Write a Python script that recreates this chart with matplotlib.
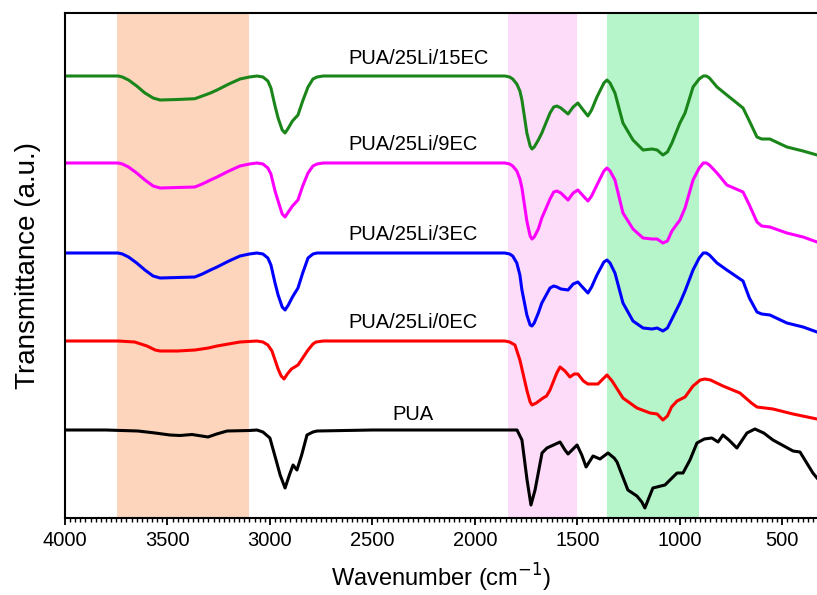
import matplotlib as mpl

mpl.use('Agg')

import matplotlib.pyplot as plt
from matplotlib.ticker import MultipleLocator

plt.rcParams['font.family'] = ['Liberation Sans', 'DejaVu Sans']

# FTIR spectra, values relative to each baseline (a.u.)
wn_pua = [4000, 3800, 3644, 3560, 3488, 3439, 3380, 3302, 3260, 3209, 3100, 3063,
          3034, 3000, 2970, 2950, 2926, 2905, 2887, 2868, 2845, 2819, 2790, 2770,
          2500, 2000, 1830, 1794, 1770, 1745, 1726, 1706, 1672, 1648, 1584, 1560,
          1545, 1501, 1478, 1457, 1423, 1389, 1350, 1320, 1306, 1253, 1209, 1185,
          1170, 1131, 1072, 1013, 984, 950, 916, 880, 843, 813, 789, 760, 721, 672,
          633, 590, 545, 447, 413, 380, 350, 330]
t_pua = [0, 0, -0.01, -0.03, -0.05, -0.055, -0.045, -0.07, -0.04, -0.01, -0.005, 0,
         -0.02, -0.08, -0.30, -0.45, -0.58, -0.45, -0.35, -0.40, -0.25, -0.05, -0.02, -0.01,
         0, 0, 0, 0, -0.10, -0.50, -0.75, -0.60, -0.23, -0.18, -0.12, -0.20,
         -0.24, -0.15, -0.25, -0.37, -0.26, -0.29, -0.23, -0.28, -0.32, -0.60, -0.66, -0.72,
         -0.78, -0.58, -0.55, -0.43, -0.43, -0.30, -0.13, -0.09, -0.08, -0.12, -0.05, -0.10, -0.18, -0.03,
         0.01, -0.03, -0.10, -0.21, -0.22, -0.33, -0.43, -0.48]

wn_0ec = [4000, 3741, 3660, 3630, 3600, 3560, 3536, 3450, 3366, 3300, 3258, 3146,
          3063, 3034, 3010, 2990, 2960, 2945, 2931, 2915, 2895, 2863, 2840, 2814,
          2790, 2775, 2740, 1853, 1830, 1804, 1780, 1745, 1730, 1721, 1700, 1667,
          1650, 1633, 1600, 1584, 1560, 1536, 1515, 1497, 1470, 1448, 1399, 1375,
          1355, 1330, 1277, 1209, 1145, 1110, 1082, 1060, 1040, 1013, 974, 935,
          900, 877, 850, 789, 706, 650, 623, 545, 447, 330]
t_0ec = [0, 0, -0.01, -0.03, -0.05, -0.09, -0.10, -0.10, -0.09, -0.07, -0.05, -0.01,
         0, -0.01, -0.04, -0.10, -0.28, -0.35, -0.38, -0.33, -0.28, -0.24, -0.17, -0.09,
         -0.03, -0.01, 0, 0, -0.01, -0.04, -0.19, -0.50, -0.61, -0.64, -0.62, -0.57,
         -0.55, -0.49, -0.32, -0.26, -0.30, -0.36, -0.33, -0.33, -0.40, -0.43, -0.43, -0.38,
         -0.34, -0.40, -0.57, -0.67, -0.72, -0.73, -0.79, -0.75, -0.66, -0.60, -0.56, -0.45,
         -0.39, -0.38, -0.39, -0.45, -0.52, -0.62, -0.66, -0.68, -0.73, -0.78]

# the three EC-rich samples share one wavenumber grid
wn_ec = [4000, 3741, 3720, 3690, 3650, 3610, 3570, 3536, 3450, 3366, 3330, 3290,
         3258, 3200, 3146, 3100, 3063, 3034, 3010, 2995, 2975, 2960, 2940, 2926,
         2910, 2890, 2863, 2840, 2814, 2790, 2770, 2740, 1853, 1830, 1815, 1795,
         1780, 1770, 1746, 1730, 1721, 1710, 1690, 1673, 1633, 1615, 1599, 1580,
         1545, 1520, 1497, 1475, 1448, 1430, 1404, 1370, 1355, 1340, 1316, 1277,
         1228, 1179, 1135, 1110, 1082, 1060, 1038, 999, 974, 935, 905, 885,
         870, 855, 818, 770, 691, 660, 623, 600, 560, 477, 398, 330]
t_3ec = [0, 0, -0.01, -0.04, -0.10, -0.17, -0.23, -0.25, -0.245, -0.24, -0.21, -0.17,
         -0.14, -0.08, -0.03, -0.01, 0, -0.01, -0.05, -0.12, -0.30, -0.42, -0.54, -0.57,
         -0.52, -0.44, -0.35, -0.20, -0.05, -0.01, 0, 0, 0, -0.01, -0.03, -0.10,
         -0.22, -0.37, -0.62, -0.72, -0.73, -0.70, -0.60, -0.50, -0.35, -0.33, -0.34, -0.36,
         -0.37, -0.31, -0.29, -0.34, -0.40, -0.34, -0.22, -0.09, -0.07, -0.10, -0.20, -0.50,
         -0.68, -0.75, -0.76, -0.75, -0.78, -0.75, -0.66, -0.50, -0.38, -0.17, -0.05, 0,
         0, -0.02, -0.10, -0.17, -0.28, -0.45, -0.59, -0.61, -0.62, -0.70, -0.74, -0.79]
t_9ec = [0, 0, -0.01, -0.04, -0.10, -0.17, -0.23, -0.25, -0.245, -0.24, -0.21, -0.17,
         -0.14, -0.08, -0.03, -0.01, 0, -0.01, -0.05, -0.11, -0.28, -0.38, -0.51, -0.54,
         -0.49, -0.43, -0.37, -0.23, -0.10, -0.03, -0.01, 0, 0, -0.01, -0.03, -0.08,
         -0.16, -0.25, -0.58, -0.73, -0.76, -0.74, -0.66, -0.55, -0.36, -0.29, -0.28, -0.30,
         -0.37, -0.30, -0.27, -0.32, -0.38, -0.33, -0.22, -0.08, -0.05, -0.08, -0.17, -0.50,
         -0.66, -0.75, -0.76, -0.76, -0.80, -0.78, -0.68, -0.57, -0.45, -0.17, -0.05, 0,
         0, -0.02, -0.10, -0.22, -0.29, -0.42, -0.59, -0.63, -0.64, -0.70, -0.74, -0.79]
t_15ec = [0, 0, -0.01, -0.04, -0.10, -0.17, -0.22, -0.24, -0.235, -0.227, -0.20, -0.17,
          -0.14, -0.08, -0.03, -0.01, 0, -0.01, -0.05, -0.12, -0.30, -0.42, -0.54, -0.57,
          -0.52, -0.45, -0.39, -0.25, -0.11, -0.03, -0.01, 0, 0, -0.01, -0.03, -0.08,
          -0.15, -0.24, -0.57, -0.70, -0.73, -0.71, -0.64, -0.57, -0.37, -0.31, -0.30, -0.32,
          -0.38, -0.31, -0.27, -0.33, -0.40, -0.34, -0.21, -0.07, -0.04, -0.07, -0.17, -0.47,
          -0.64, -0.74, -0.73, -0.74, -0.79, -0.76, -0.67, -0.47, -0.37, -0.11, -0.03, 0,
          0, -0.02, -0.11, -0.19, -0.32, -0.45, -0.61, -0.63, -0.63, -0.71, -0.75, -0.79]

names = ['PUA', 'PUA/25Li/0EC', 'PUA/25Li/3EC', 'PUA/25Li/9EC', 'PUA/25Li/15EC']
offsets = [0.88, 1.77, 2.65, 3.55, 4.42]
colors = ['black', '#ff0000', '#0000ff', '#ff00ff', '#1a861a']
spectra = [(wn_pua, t_pua), (wn_0ec, t_0ec), (wn_ec, t_3ec), (wn_ec, t_9ec), (wn_ec, t_15ec)]

# highlighted bands
bands = [(3745, 3100, '#fcd5bc'), (1840, 1500, '#fddcfa'), (1355, 905, '#b5f5c9')]

fig = plt.figure(figsize=(8.17, 5.95), dpi=100)
ax = fig.add_axes([65 / 817, 1 - 518 / 595, 1 - 65 / 817, (518 - 13) / 595])

for lo, hi, c in bands:
    ax.axvspan(lo, hi, color=c, lw=0, zorder=0)

for (wn, t), off, c in zip(spectra, offsets, colors):
    ax.plot(wn, [v + off for v in t], color=c, lw=2.2, solid_joinstyle='round', zorder=2)

# curve labels
for name, off in zip(names[1:], offsets[1:]):
    ax.text(2619, off + 0.18, name, fontsize=14.5, ha='left', va='center')
ax.text(2302, offsets[0] + 0.15, names[0], fontsize=14.5, ha='center', va='center')

ax.set_xlim(4000, 330)
ax.set_ylim(0, 5.05)
ax.xaxis.set_major_locator(MultipleLocator(500))
ax.xaxis.set_minor_locator(MultipleLocator(25))
ax.tick_params(axis='x', which='major', direction='out', length=5, width=1.3, labelsize=14.5, pad=4)
ax.tick_params(axis='x', which='minor', direction='out', length=3, width=1.0)
ax.set_yticks([])
ax.spines['right'].set_visible(False)
for s in ['left', 'top', 'bottom']:
    ax.spines[s].set_linewidth(1.5)

ax.set_xlabel('Wavenumber (cm$^{-1}$)', fontsize=17, labelpad=9)
ax.set_ylabel('Transmittance (a.u.)', fontsize=20, labelpad=17)

fig.savefig('out.png', dpi=100)
